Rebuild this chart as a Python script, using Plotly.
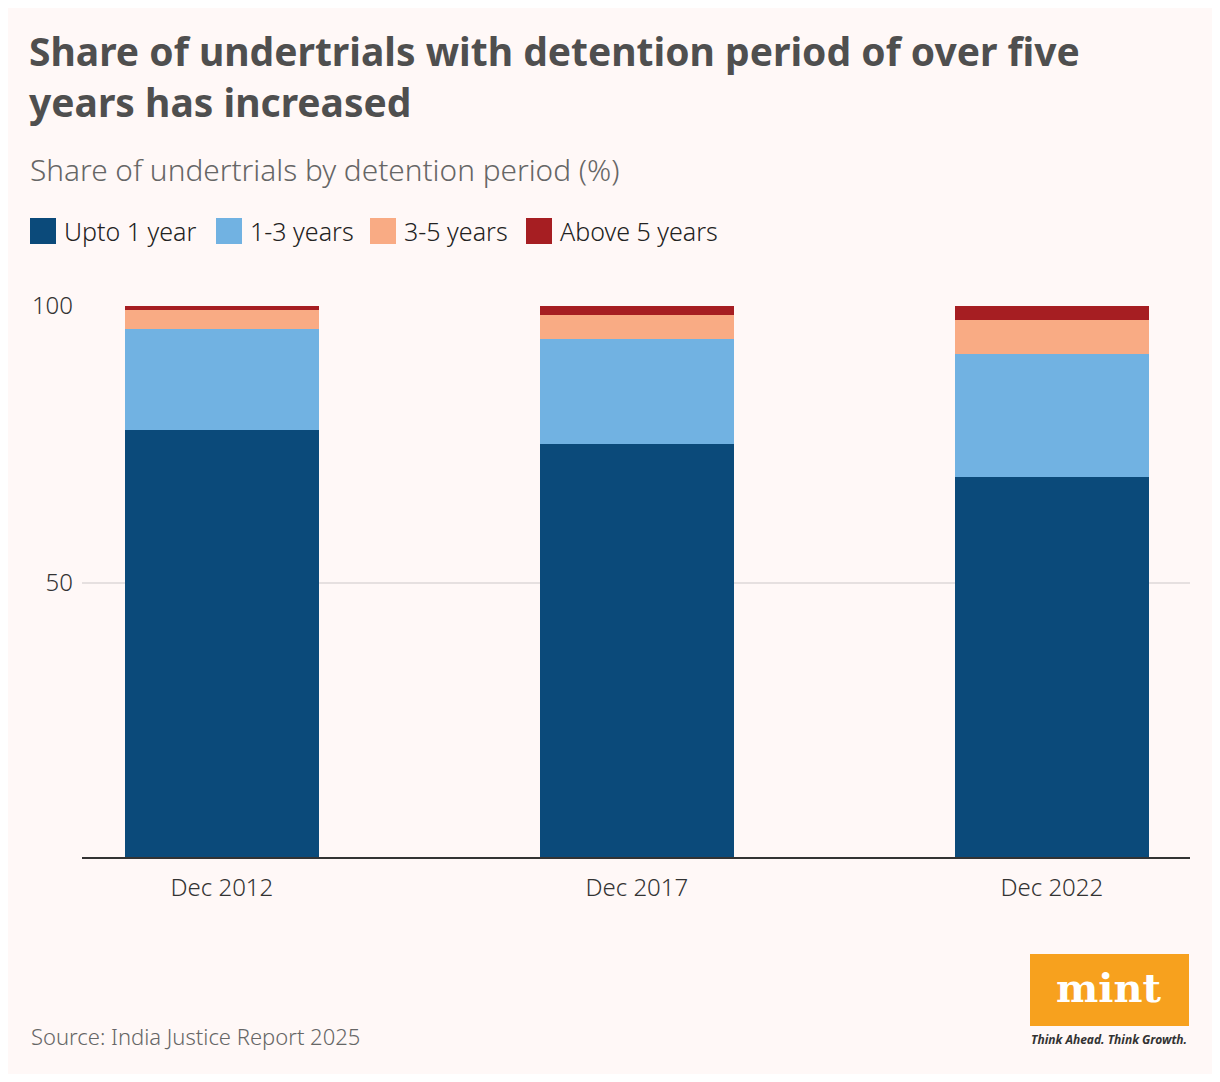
import plotly.graph_objects as go

categories = ["Dec 2012", "Dec 2017", "Dec 2022"]
series_names = ["Upto 1 year", "1-3 years", "3-5 years", "Above 5 years"]
upto_1_year = [77.6, 75.0, 69.1]
one_to_three = [18.2, 19.0, 22.3]
three_to_five = [3.5, 4.4, 6.1]
above_five = [0.7, 1.6, 2.5]
y_tick_vals = [50, 100]
y_tick_text = ["50", "100"]

values = [upto_1_year, one_to_three, three_to_five, above_five]
colors = ["#0b4a7a", "#71b2e2", "#f9ab84", "#a61e22"]

OFF = 8  # page body margin
W, H = 1220 - 2 * OFF, 1082 - 2 * OFF
L = 82 - OFF
T = 306 - OFF
R = W - (1190 - OFF)
B = H - (859 - OFF)
PW = W - L - R
PH = H - T - B


def px_x(px):
    return (px - OFF - L) / PW


def px_y(py):
    return (H - B - (py - OFF)) / PH


fig = go.Figure()
for name, vals, col in zip(series_names, values, colors):
    fig.add_trace(go.Bar(x=list(range(len(categories))), y=vals, name=name,
                         marker=dict(color=col, line=dict(width=0)),
                         width=0.467, showlegend=False))

FONT = "Noto Sans"

annotations = []
annotations.append(dict(
    text="<b>Share of undertrials with detention period of over five<br>years has increased</b>",
    x=px_x(27), y=px_y(22), xref="paper", yref="paper", xanchor="left", yanchor="top",
    showarrow=False, align="left",
    font=dict(family=FONT, size=39, color="#4f4f4f")))
annotations.append(dict(
    text="Share of undertrials by detention period (%)",
    x=px_x(28), y=px_y(170), xref="paper", yref="paper", xanchor="left", yanchor="middle",
    showarrow=False, align="left",
    font=dict(family=FONT, size=29.8, color="#666666", weight=300)))
annotations.append(dict(
    text="Source: India Justice Report 2025",
    x=px_x(29), y=px_y(1036), xref="paper", yref="paper", xanchor="left", yanchor="middle",
    showarrow=False, align="left",
    font=dict(family=FONT, size=22, color="#666666", weight=300)))

shapes = []
legend_x = [30, 216, 370, 526]
for lx, name, col in zip(legend_x, series_names, colors):
    shapes.append(dict(type="rect", xref="paper", yref="paper",
                       x0=px_x(lx), x1=px_x(lx + 26), y0=px_y(244), y1=px_y(218),
                       fillcolor=col, line=dict(width=0)))
    annotations.append(dict(text=name, x=px_x(lx + 32), y=px_y(231), xref="paper", yref="paper",
                            xanchor="left", yanchor="middle", showarrow=False,
                            font=dict(family=FONT, size=25, color="#222222", weight=300)))

shapes.append(dict(type="line", xref="paper", yref="y", x0=0, x1=1, y0=0, y1=0,
                   line=dict(color="#333333", width=4)))

shapes.append(dict(type="rect", xref="paper", yref="paper",
                   x0=px_x(1030), x1=px_x(1189), y0=px_y(1026), y1=px_y(954),
                   fillcolor="#f7a11e", line=dict(width=0)))
annotations.append(dict(text="<b>mint</b>", x=px_x(1109), y=px_y(987), xref="paper", yref="paper",
                        xanchor="center", yanchor="middle", showarrow=False,
                        font=dict(family="DejaVu Serif", size=40, color="#ffffff")))
annotations.append(dict(text="<b><i>Think Ahead. Think Growth.</i></b>", x=px_x(1109), y=px_y(1039),
                        xref="paper", yref="paper", xanchor="center", yanchor="middle", showarrow=False,
                        font=dict(family=FONT, size=12, color="#333333")))

fig.update_layout(
    width=W, height=H,
    margin=dict(l=L, r=R, t=T, b=B, autoexpand=False),
    paper_bgcolor="#fff8f7", plot_bgcolor="#fff8f7",
    barmode="stack", bargap=0,
    showlegend=False,
    annotations=annotations, shapes=shapes,
    xaxis=dict(range=[-0.337, 2.333], tickmode="array", tickvals=list(range(len(categories))),
               ticktext=categories, showgrid=False, zeroline=False, showline=False,
               ticks="", ticklabelstandoff=12,
               tickfont=dict(family=FONT, size=24, color="#333333", weight=300)),
    yaxis=dict(range=[0, 100], tickmode="array", tickvals=y_tick_vals, ticktext=y_tick_text,
               showgrid=True, gridcolor="#e6e0e0", gridwidth=2, zeroline=False, showline=False,
               ticks="", ticklabelstandoff=8,
               tickfont=dict(family=FONT, size=24, color="#333333", weight=300)),
)

fig.write_html("out.html")
